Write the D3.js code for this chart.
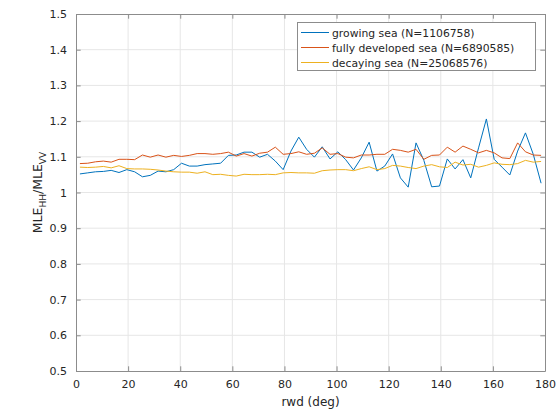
<!DOCTYPE html>
<html>
<head>
<meta charset="utf-8">
<script src="https://cdn.jsdelivr.net/npm/d3@7"></script>
<style>
  body { margin: 0; background: #fff; }
  text { font-family: "DejaVu Sans", sans-serif; fill: #262626; }
</style>
</head>
<body>
<div id="chart"></div>
<script>
// bin centres, 3 deg wide
var rwd = d3.range(60).map(function(k) { return 1.5 + 3 * k; });

var growing = [1.052, 1.055, 1.058, 1.059, 1.062, 1.056, 1.064, 1.058, 1.044, 1.048,
  1.060, 1.058, 1.064, 1.082, 1.074, 1.074, 1.078, 1.080, 1.082, 1.104,
  1.105, 1.113, 1.113, 1.099, 1.107, 1.088, 1.064, 1.116, 1.155, 1.121,
  1.099, 1.128, 1.094, 1.114, 1.092, 1.063, 1.097, 1.141, 1.060, 1.074,
  1.108, 1.041, 1.015, 1.139, 1.090, 1.016, 1.018, 1.094, 1.066, 1.092,
  1.041, 1.125, 1.206, 1.093, 1.071, 1.049, 1.116, 1.167, 1.107, 1.026];

var developed = [1.081, 1.082, 1.086, 1.088, 1.085, 1.093, 1.093, 1.092, 1.105, 1.099,
  1.105, 1.099, 1.104, 1.101, 1.104, 1.109, 1.109, 1.107, 1.109, 1.113,
  1.102, 1.109, 1.102, 1.110, 1.113, 1.127, 1.107, 1.109, 1.114, 1.107,
  1.110, 1.125, 1.107, 1.109, 1.099, 1.097, 1.105, 1.105, 1.107, 1.107,
  1.121, 1.118, 1.113, 1.121, 1.093, 1.104, 1.105, 1.127, 1.113, 1.130,
  1.121, 1.111, 1.118, 1.111, 1.097, 1.095, 1.139, 1.114, 1.105, 1.104];

var decaying = [1.071, 1.070, 1.071, 1.073, 1.069, 1.075, 1.067, 1.066, 1.066, 1.065,
  1.063, 1.060, 1.058, 1.057, 1.057, 1.054, 1.058, 1.050, 1.051, 1.048,
  1.046, 1.051, 1.050, 1.050, 1.051, 1.050, 1.055, 1.056, 1.055, 1.055,
  1.054, 1.061, 1.063, 1.064, 1.064, 1.061, 1.067, 1.072, 1.064, 1.067,
  1.076, 1.074, 1.070, 1.067, 1.074, 1.078, 1.072, 1.070, 1.085, 1.077,
  1.079, 1.071, 1.076, 1.083, 1.079, 1.078, 1.081, 1.090, 1.085, 1.087];

var seriesNames = ["growing sea (N=1106758)", "fully developed sea (N=6890585)", "decaying sea (N=25068576)"];
var seriesColors = ["#0072BD", "#D95319", "#EDB120"];
var xTicks = [0, 20, 40, 60, 80, 100, 120, 140, 160, 180];
var yTicks = [0.5, 0.6, 0.7, 0.8, 0.9, 1, 1.1, 1.2, 1.3, 1.4, 1.5];

var W = 560, H = 410;
// plot box edges
var pL = 76, pR = 545, pT = 14, pB = 371;

var svg = d3.select("#chart")
  .append("svg")
  .attr("width", W)
  .attr("height", H);

var x = d3.scaleLinear().domain([0, 180]).range([pL, pR]);
var y = d3.scaleLinear().domain([0.5, 1.5]).range([pB, pT]);

// grid
svg.append("g").selectAll("line")
  .data(xTicks.slice(1, -1))
  .enter().append("line")
  .attr("x1", function(d) { return x(d); }).attr("x2", function(d) { return x(d); })
  .attr("y1", pT).attr("y2", pB)
  .attr("stroke", "#e6e6e6").attr("stroke-width", 1);

svg.append("g").selectAll("line")
  .data(yTicks.slice(1, -1))
  .enter().append("line")
  .attr("y1", function(d) { return y(d); }).attr("y2", function(d) { return y(d); })
  .attr("x1", pL).attr("x2", pR)
  .attr("stroke", "#e6e6e6").attr("stroke-width", 1);

// axes, ticks inward on all four sides
var axisColor = "#8c8c8c";
var tl = 4.7;

var xBottom = svg.append("g").attr("transform", "translate(0," + pB + ")")
  .call(d3.axisBottom(x).tickValues(xTicks).tickSizeInner(-tl).tickSizeOuter(0).tickPadding(9));
var xTop = svg.append("g").attr("transform", "translate(0," + pT + ")")
  .call(d3.axisTop(x).tickValues(xTicks).tickSizeInner(-tl).tickSizeOuter(0).tickFormat(""));
var yLeft = svg.append("g").attr("transform", "translate(" + pL + ",0)")
  .call(d3.axisLeft(y).tickValues(yTicks).tickSizeInner(-tl).tickSizeOuter(0).tickPadding(9).tickFormat(d3.format("")));
var yRight = svg.append("g").attr("transform", "translate(" + pR + ",0)")
  .call(d3.axisRight(y).tickValues(yTicks).tickSizeInner(-tl).tickSizeOuter(0).tickFormat(""));

[xBottom, xTop, yLeft, yRight].forEach(function(g) {
  g.select(".domain").attr("stroke", axisColor);
  g.selectAll(".tick line").attr("stroke", axisColor);
  g.selectAll(".tick text").style("font-family", "DejaVu Sans").style("font-size", "11px").attr("fill", "#262626");
});

// lines
var line = d3.line()
  .x(function(d, i) { return x(rwd[i]); })
  .y(function(d) { return y(d); });

[growing, developed, decaying].forEach(function(s, i) {
  svg.append("path")
    .attr("d", line(s))
    .attr("fill", "none")
    .attr("stroke", seriesColors[i])
    .attr("stroke-width", 1);
});

// axis labels
svg.append("text")
  .attr("x", (pL + pR) / 2).attr("y", 406)
  .attr("text-anchor", "middle")
  .style("font-size", "12px")
  .text("rwd (deg)");

var yl = svg.append("text")
  .attr("transform", "translate(42," + ((pT + pB) / 2) + ") rotate(-90)")
  .attr("text-anchor", "middle")
  .style("font-size", "12.5px");
yl.append("tspan").text("MLE");
yl.append("tspan").attr("dy", 3.5).style("font-size", "9px").text("HH");
yl.append("tspan").attr("dy", -3.5).text("/MLE");
yl.append("tspan").attr("dy", 3.5).style("font-size", "9px").text("VV");

// legend
var lg = svg.append("g");
lg.append("rect")
  .attr("x", 297.5).attr("y", 22.5)
  .attr("width", 238).attr("height", 48)
  .attr("fill", "#fff").attr("stroke", axisColor);

seriesNames.forEach(function(name, i) {
  var yy = 32.5 + 15 * i;
  lg.append("line")
    .attr("x1", 301).attr("x2", 329)
    .attr("y1", yy).attr("y2", yy)
    .attr("stroke", seriesColors[i]).attr("stroke-width", 1);
  lg.append("text")
    .attr("x", 332).attr("y", yy + 4)
    .style("font-size", "10.8px")
    .text(name);
});
</script>
</body>
</html>
